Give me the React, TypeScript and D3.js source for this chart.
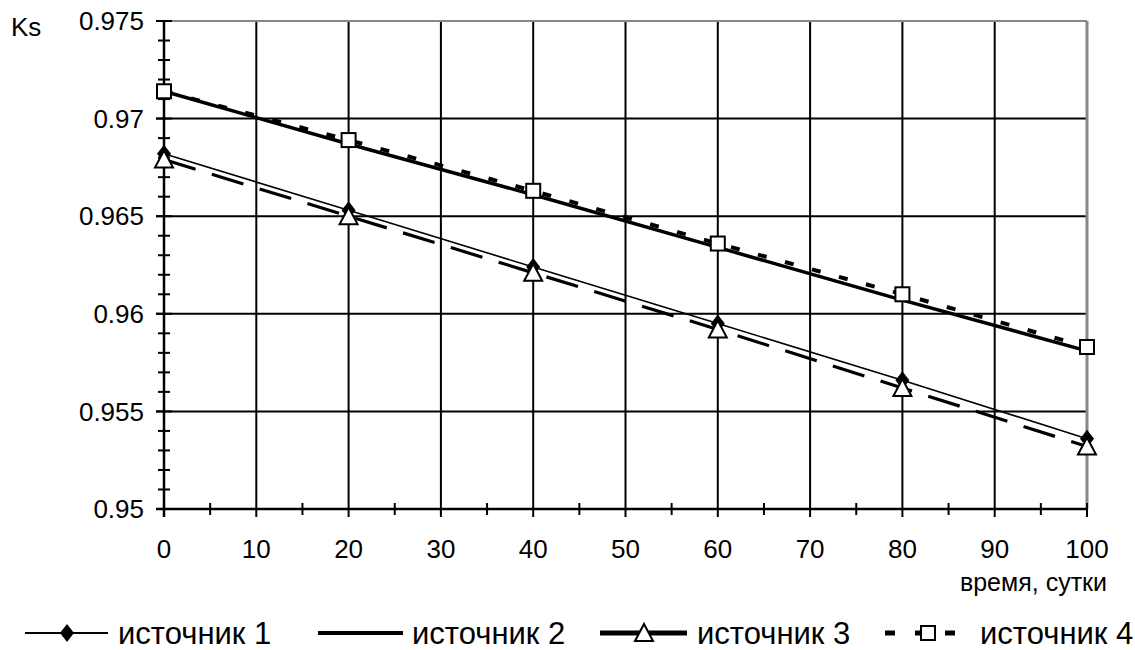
import React from 'react';
import * as d3 from 'd3';

const days = [0, 20, 40, 60, 80, 100];
const source1 = [0.9682, 0.9653, 0.9624, 0.9595, 0.9566, 0.9536];
const source2 = [0.9714, 0.9687, 0.9661, 0.9634, 0.9607, 0.9581];
const source3 = [0.9679, 0.965, 0.9621, 0.9592, 0.9562, 0.9532];
const source4 = [0.9714, 0.9689, 0.9663, 0.9636, 0.961, 0.9583];
const xTicks = [0, 10, 20, 30, 40, 50, 60, 70, 80, 90, 100];
const yTicks = [0.95, 0.955, 0.96, 0.965, 0.97, 0.975];
const legendNames = ['источник  1', 'источник 2', 'источник 3', 'источник 4'];

const width = 1135;
const height = 650;
const font = 'Liberation Sans, Arial, sans-serif';

const Diamond = ({ x, y }: { x: number; y: number }) => (
  <path d={`M${x},${y - 9} L${x + 7},${y} L${x},${y + 9} L${x - 7},${y} Z`} fill="#000" />
);
const Triangle = ({ x, y }: { x: number; y: number }) => (
  <path
    d={`M${x},${y - 9} L${x + 9},${y + 8} L${x - 9},${y + 8} Z`}
    fill="#fff"
    stroke="#000"
    strokeWidth={2}
  />
);
const Square = ({ x, y }: { x: number; y: number }) => (
  <rect x={x - 7} y={y - 7} width={14} height={14} fill="#fff" stroke="#000" strokeWidth={2} />
);

const App = () => {
  const x = d3.scaleLinear().domain([0, 100]).range([164, 1087]);
  const y = d3.scaleLinear().domain([0.95, 0.975]).range([509, 21]);

  const line = d3
    .line<number>()
    .x((_, i) => x(days[i]))
    .y((d) => y(d));

  const minorY = d3.range(0, 26).map((i) => 0.95 + i * 0.001);
  const minorX = d3.range(5, 100, 10);

  const legendY = 633;

  return (
    <svg width={width} height={height} style={{ position: 'absolute', left: 0, top: 0 }}>
      <rect width={width} height={height} fill="#fff" />
      {/* grid */}
      {xTicks.slice(1, -1).map((t) => (
        <line key={'gx' + t} x1={x(t)} x2={x(t)} y1={y(0.975)} y2={y(0.95) + 8} stroke="#000" strokeWidth={2} />
      ))}
      {yTicks.slice(1, -1).map((t) => (
        <line key={'gy' + t} x1={x(0) - 8} x2={x(100)} y1={y(t)} y2={y(t)} stroke="#000" strokeWidth={2} />
      ))}
      <line x1={x(0)} x2={x(100)} y1={y(0.975)} y2={y(0.975)} stroke="#888" strokeWidth={2} />
      <line x1={x(100)} x2={x(100)} y1={y(0.975)} y2={y(0.95)} stroke="#888" strokeWidth={3} />

      {/* axes */}
      <line x1={x(0)} x2={x(0)} y1={y(0.975)} y2={y(0.95) + 8} stroke="#000" strokeWidth={2.5} />
      <line x1={x(0) - 8} x2={x(100)} y1={y(0.95)} y2={y(0.95)} stroke="#000" strokeWidth={2.5} />
      {minorY.map((t, i) => (
        <line
          key={'my' + i}
          x1={x(0) - (i % 5 === 0 ? 8 : 6)}
          x2={x(0) + (i % 5 === 0 ? 8 : 6)}
          y1={y(t)}
          y2={y(t)}
          stroke="#000"
          strokeWidth={2}
        />
      ))}
      {minorX.map((t) => (
        <line key={'mx' + t} x1={x(t)} x2={x(t)} y1={y(0.95) - 6} y2={y(0.95) + 6} stroke="#000" strokeWidth={2} />
      ))}
      <line x1={x(100)} x2={x(100)} y1={y(0.95) - 6} y2={y(0.95) + 8} stroke="#000" strokeWidth={2} />

      {/* tick labels */}
      {yTicks.map((t) => (
        <text
          key={'ly' + t}
          x={x(0) - 20}
          y={y(t)}
          dy="0.35em"
          textAnchor="end"
          fontFamily={font}
          fontSize={26}
        >
          {d3.format('')(+t.toFixed(3))}
        </text>
      ))}
      {xTicks.map((t) => (
        <text key={'lx' + t} x={x(t)} y={558} textAnchor="middle" fontFamily={font} fontSize={26}>
          {t}
        </text>
      ))}
      <text x={11} y={36} fontFamily={font} fontSize={26}>
        Ks
      </text>
      <text x={1107} y={591} textAnchor="end" fontFamily={font} fontSize={25}>
        время, сутки
      </text>

      {/* series */}
      <path d={line(source2) ?? ''} fill="none" stroke="#000" strokeWidth={3.5} />
      <path d={line(source4) ?? ''} fill="none" stroke="#000" strokeWidth={4} strokeDasharray="9 19" />
      <path d={line(source1) ?? ''} fill="none" stroke="#000" strokeWidth={1.6} />
      <path d={line(source3) ?? ''} fill="none" stroke="#000" strokeWidth={3.2} strokeDasharray="33 17" />
      {source1.map((v, i) => (
        <Diamond key={'d' + i} x={x(days[i])} y={y(v)} />
      ))}
      {source3.map((v, i) => (
        <Triangle key={'t' + i} x={x(days[i])} y={y(v)} />
      ))}
      {source4.map((v, i) => (
        <Square key={'s' + i} x={x(days[i])} y={y(v)} />
      ))}

      {/* legend */}
      <g fontFamily={font} fontSize={31}>
        <line x1={25} x2={108} y1={legendY} y2={legendY} stroke="#000" strokeWidth={2} />
        <Diamond x={67} y={legendY} />
        <text x={118} y={legendY + 11}>{legendNames[0]}</text>

        <line x1={318} x2={403} y1={legendY} y2={legendY} stroke="#000" strokeWidth={4} />
        <text x={412} y={legendY + 11}>{legendNames[1]}</text>

        <line x1={600} x2={687} y1={legendY} y2={legendY} stroke="#000" strokeWidth={5} />
        <Triangle x={644} y={legendY} />
        <text x={697} y={legendY + 11}>{legendNames[2]}</text>

        <line x1={885} x2={955} y1={legendY} y2={legendY} stroke="#000" strokeWidth={5} strokeDasharray="10 20" />
        <Square x={928} y={legendY} />
        <text x={980} y={legendY + 11}>{legendNames[3]}</text>
      </g>
    </svg>
  );
};

export default App;
